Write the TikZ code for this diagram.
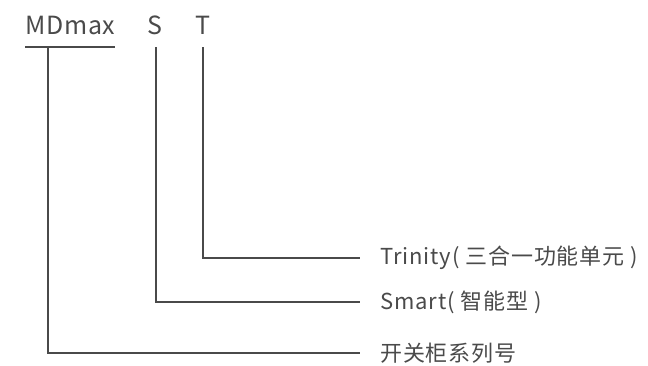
\documentclass[tikz,border=0pt]{standalone}
\usepackage{fontspec}
\setmainfont{Noto Sans CJK SC}[LetterSpace=4]
\newfontfamily\codefont{Noto Sans CJK SC}[LetterSpace=3]
\definecolor{ink}{HTML}{4A4A4A}
\tikzset{
  code/.style={inner sep=0pt, anchor=base, text=ink, font=\codefont\fontsize{25}{30}\selectfont},
  label/.style={inner sep=0pt, anchor=west, text=ink, font=\fontsize{22}{26}\selectfont},
  wire/.style={draw=ink, line width=1.2pt}
}
\begin{document}
\begin{tikzpicture}[x=1pt, y=-1pt]
    \useasboundingbox (0,0) rectangle (648,365);
% Code letters
    \node[code, anchor=base west] (mdmax) at (25,34) {MDmax};
    \node[code] (s) at (155,34) {S};
    \node[code] (t) at (203,34) {T};
    \draw[wire] (25,47) -- (115,47);
% Feet of the connectors
    \coordinate (mdfoot) at (48,47);
    \coordinate (sfoot) at (156,47);
    \coordinate (tfoot) at (203,47);
% Meanings
    \node[label] (trinity) at (380,258) {Trinity( 三合一功能单元 )};
    \node[label] (smart) at (380,302) {Smart( 智能型 )};
    \node[label] (series) at (380,353) {开关柜系列号};
% Connectors
    \draw[wire] (tfoot) |- ([xshift=-20pt]trinity.west);
    \draw[wire] (sfoot) |- ([xshift=-20pt]smart.west);
    \draw[wire] (mdfoot) |- ([xshift=-20pt]series.west);
\end{tikzpicture}
\end{document}
